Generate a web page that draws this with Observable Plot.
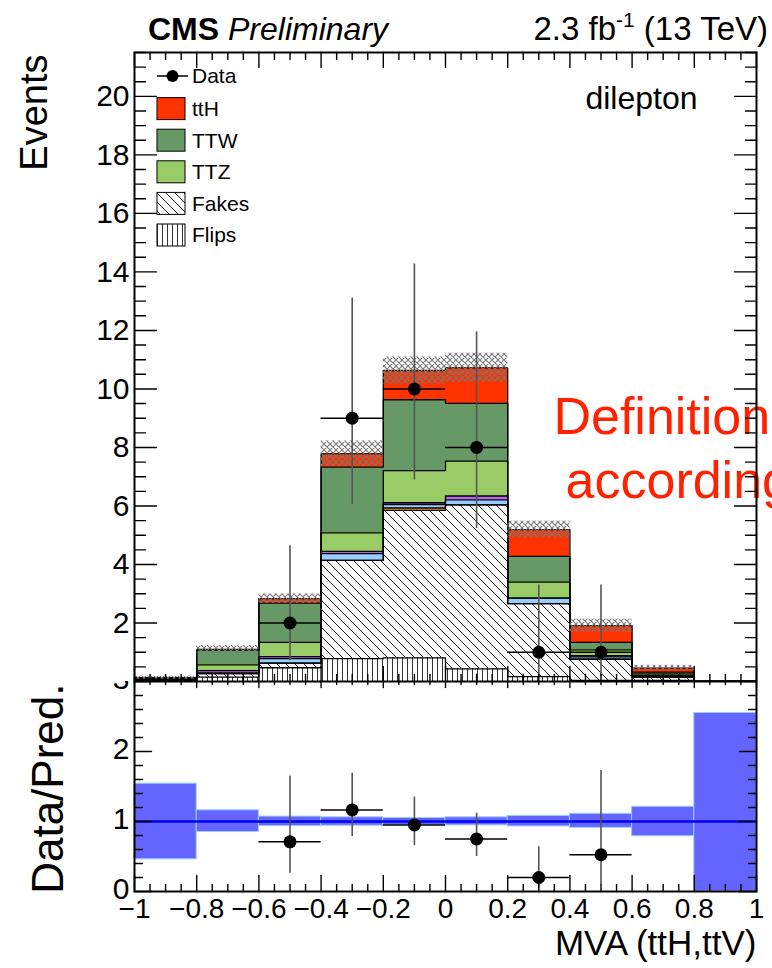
<!DOCTYPE html>
<html><head><meta charset="utf-8">
<script src="https://cdn.jsdelivr.net/npm/d3@7"></script>
<script src="https://cdn.jsdelivr.net/npm/@observablehq/plot@0.6"></script>
<style>
html,body{margin:0;padding:0;background:#fff;}
#chart{position:relative;width:772px;height:968px;overflow:hidden;background:#fff;}
#chart svg{display:block;overflow:hidden;}
</style></head><body><div id="chart"></div>
<script>
// ---------- data ----------
const binEdges = [-1,-0.8,-0.6,-0.4,-0.2,0,0.2,0.4,0.6,0.8,1];
const layerNames = ["Flips","Fakes","Rares","WZ","ZZ","TTZ","TTW","ttH"];
const flips = [0.04,0.15,0.47,0.78,0.81,0.43,0.17,0.04,0.04,0];
const fakes = [0.03,0.12,0.16,3.36,5.04,5.61,2.49,0.72,0.11,0];
const rares = [0,0,0,0,0.08,0,0,0,0,0];
const wz    = [0.01,0.02,0.15,0.23,0.12,0.17,0.19,0.08,0.03,0];
const zz    = [0.01,0.08,0.07,0.08,0.06,0.13,0,0.04,0.03,0];
const ttz   = [0.02,0.20,0.49,0.63,1.10,1.19,0.55,0.20,0.05,0];
const ttw   = [0.02,0.50,1.34,2.25,2.42,1.98,0.88,0.26,0.06,0];
const tth   = [0,0.03,0.15,0.45,1.00,1.21,0.91,0.57,0.14,0];
const totalUnc = [0.05,0.13,0.16,0.44,0.46,0.50,0.29,0.22,0.09,0];

const dataBin = [2,3,4,5,6,7];
const dataX   = [-0.5,-0.3,-0.1,0.1,0.3,0.5];
const dataN   = [2,9,10,8,1,1];
const dataLo  = [0.71,6.06,6.89,5.23,0.17,0.17];
const dataHi  = [4.64,13.11,14.27,11.95,3.30,3.30];

const ratioVal = [0.71,1.165,0.95,0.75,0.20,0.525];
const ratioLo  = [0.26,0.785,0.655,0.50,0.035,0.095];
const ratioHi  = [1.65,1.69,1.35,1.12,0.64,1.73];
const bandLo = [0.46,0.85,0.935,0.94,0.95,0.945,0.93,0.91,0.79,0];
const bandHi = [1.54,1.16,1.07,1.06,1.05,1.06,1.08,1.11,1.21,2.55];

const yTicksTop = [2,4,6,8,10,12,14,16,18,20];
const yTicksRatio = [0,1,2,3];
const xTicks = [-1,-0.8,-0.6,-0.4,-0.2,0,0.2,0.4,0.6,0.8,1];
const legendLabels = ["Data","ttH","TTW","TTZ","Fakes","Flips"];

// ---------- styles ----------
const FONT = "'Liberation Sans', Arial, Helvetica, sans-serif";
const layerFill = {
  Flips: "url(#hatchFlips)", Fakes: "url(#hatchFakes)", Rares: "#ff9933",
  WZ: "#99ccff", ZZ: "#c060f0", TTZ: "#99cc66", TTW: "#669966", ttH: "#ff3300"
};
const layerValues = {Flips: flips, Fakes: fakes, Rares: rares, WZ: wz, ZZ: zz, TTZ: ttz, TTW: ttw, ttH: tth};

// build stacked rows
const stackRows = {};
const stackTops = {};
const cum = binEdges.slice(0, -1).map(() => 0);
for (const name of layerNames) {
  const vals = layerValues[name];
  stackRows[name] = vals.map((v, i) => ({x1: binEdges[i], x2: binEdges[i+1], y1: cum[i], y2: cum[i] + v}));
  vals.forEach((v, i) => { cum[i] += v; });
  stackTops[name] = binEdges.map((e, k) => ({x: e, y: cum[Math.min(k, cum.length - 1)]}));
}
const totals = cum.slice();
const uncRows = totals.map((t, i) => ({x1: binEdges[i], x2: binEdges[i+1], y1: t - totalUnc[i], y2: t + totalUnc[i]})).filter((d, i) => totalUnc[i] > 0);
const dataRows = dataX.map((x, i) => ({x, n: dataN[i], lo: dataLo[i], hi: dataHi[i], x1: binEdges[dataBin[i]], x2: binEdges[dataBin[i] + 1]}));
const ratioRows = dataX.map((x, i) => ({x, r: ratioVal[i], lo: ratioLo[i], hi: ratioHi[i], x1: binEdges[dataBin[i]], x2: binEdges[dataBin[i] + 1]}));
const bandRows = bandLo.map((lo, i) => ({x1: binEdges[i], x2: binEdges[i+1], y1: lo, y2: bandHi[i]}));

// tick helpers
const tickShape = {draw(ctx, l) { ctx.moveTo(0, 0); ctx.lineTo(0, -l); }};
function vt(values, opts) {
  return Plot.vector(values, {anchor: "start", shape: tickShape, stroke: "black", strokeWidth: 1.4, ...opts});
}
const yMinorTop = d3.range(0, 44).map(k => k * 0.5).filter(v => v <= 21.5 && (Math.round(v * 2) % 4) !== 0);
const yMajorTop = [0, ...yTicksTop];
const xMinor = d3.range(0, 41).filter(k => k % 4 !== 0).map(k => -1 + k * 0.05);
const xMajor = xTicks;
const yMinorRatio = d3.range(0, 16).filter(k => k % 5 !== 0).map(k => k * 0.2);
const fmtX = d => (d < 0 ? "\u2212" : "") + String(Math.abs(d));

// ---------- upper plot ----------
const upperMarks = [];
for (const name of layerNames) {
  upperMarks.push(Plot.rect(stackRows[name], {x1: "x1", x2: "x2", y1: "y1", y2: "y2", fill: layerFill[name], shapeRendering: "crispEdges"}));
}
for (const name of layerNames) {
  upperMarks.push(Plot.line(stackTops[name], {x: "x", y: "y", curve: "step-after", stroke: "black", strokeWidth: 1.3}));
}
upperMarks.push(Plot.rect(uncRows, {x1: "x1", x2: "x2", y1: "y1", y2: "y2", fill: "url(#hatchUnc)"}));
upperMarks.push(Plot.ruleX(dataRows, {x: "x", y1: "lo", y2: "hi", stroke: "#555", strokeWidth: 1.6}));
upperMarks.push(Plot.ruleY(dataRows, {y: "n", x1: "x1", x2: "x2", stroke: "black", strokeWidth: 1.6}));
upperMarks.push(Plot.dot(dataRows, {x: "x", y: "n", r: 6.5, fill: "black", stroke: "none"}));
upperMarks.push(Plot.text(["dilepton"], {x: [0.45], y: [19.92], text: d => d, textAnchor: "start", fontSize: 32, fill: "black"}));
upperMarks.push(Plot.text(["Definition", "according"], {x: [0.347, 0.386], y: [9.03, 6.85], text: d => d, textAnchor: "start", fontSize: 52, fill: "#ff2200"}));
upperMarks.push(Plot.text(["Events"], {frameAnchor: "top-left", rotate: -90, textAnchor: "end", dx: -114, dy: 2, fontSize: 38, fill: "black"}));
upperMarks.push(vt(yMajorTop, {x: -1, y: d => d, rotate: 90, length: 22}));
upperMarks.push(vt(yMinorTop, {x: -1, y: d => d, rotate: 90, length: 11}));
upperMarks.push(vt(yMajorTop, {x: 1, y: d => d, rotate: -90, length: 22}));
upperMarks.push(vt(yMinorTop, {x: 1, y: d => d, rotate: -90, length: 11}));
upperMarks.push(vt(xMajor, {x: d => d, y: 0, rotate: 0, length: 15}));
upperMarks.push(vt(xMinor, {x: d => d, y: 0, rotate: 0, length: 7}));
upperMarks.push(vt(xMajor, {x: d => d, y: 21.5, rotate: 180, length: 15}));
upperMarks.push(vt(xMinor, {x: d => d, y: 21.5, rotate: 180, length: 7}));
upperMarks.push(Plot.axisY(yTicksTop, {anchor: "left", tickSize: 0, tickPadding: 5, fontSize: 30, tickFormat: d => String(d)}));
upperMarks.push(Plot.frame({stroke: "black", strokeWidth: 2}));

const upper = Plot.plot({
  width: 772, height: 681,
  marginTop: 52, marginLeft: 134, marginRight: 16, marginBottom: 0,
  x: {domain: [-1, 1], axis: null},
  y: {domain: [0, 21.5]},
  style: {fontFamily: FONT, fontSize: "30px", background: "white", color: "black", overflow: "hidden"},
  marks: upperMarks
});

// ---------- lower plot ----------
const lower = Plot.plot({
  width: 772, height: 287,
  marginTop: 0, marginLeft: 134, marginRight: 16, marginBottom: 77,
  x: {domain: [-1, 1]},
  y: {domain: [0, 3]},
  style: {fontFamily: FONT, fontSize: "30px", background: "white", color: "black", overflow: "hidden"},
  marks: [
    Plot.rect(bandRows, {x1: "x1", x2: "x2", y1: "y1", y2: "y2", fill: "#6464ff", stroke: "#99ccff", strokeWidth: 1}),
    Plot.ruleY([1], {stroke: "#0000ee", strokeWidth: 2.4}),
    Plot.ruleX(ratioRows, {x: "x", y1: "lo", y2: "hi", stroke: "#555", strokeWidth: 1.6}),
    Plot.ruleY(ratioRows, {y: "r", x1: "x1", x2: "x2", stroke: "black", strokeWidth: 1.6}),
    Plot.dot(ratioRows, {x: "x", y: "r", r: 6.5, fill: "black", stroke: "none"}),
    vt(yTicksRatio, {x: -1, y: d => d, rotate: 90, length: 17}),
    vt(yMinorRatio, {x: -1, y: d => d, rotate: 90, length: 8}),
    vt(yTicksRatio, {x: 1, y: d => d, rotate: -90, length: 17}),
    vt(yMinorRatio, {x: 1, y: d => d, rotate: -90, length: 8}),
    vt(xMajor, {x: d => d, y: 0, rotate: 0, length: 16}),
    vt(xMinor, {x: d => d, y: 0, rotate: 0, length: 7}),
    vt(xMajor, {x: d => d, y: 3, rotate: 180, length: 6}),
    vt(xMinor, {x: d => d, y: 3, rotate: 180, length: 3}),
    Plot.axisY(yTicksRatio, {anchor: "left", tickSize: 0, tickPadding: 5, fontSize: 30, dy: -2, tickFormat: d => String(d)}),
    Plot.axisX(xTicks, {anchor: "bottom", tickSize: 0, tickPadding: 7, fontSize: 28, tickFormat: fmtX}),
    Plot.text(["Data/Pred."], {frameAnchor: "top-left", rotate: -90, textAnchor: "end", dx: -103, dy: 2, fontSize: 44, fill: "black"}),
    Plot.text(["MVA (ttH,ttV)"], {frameAnchor: "bottom-right", textAnchor: "end", dy: 63, fontSize: 35, fill: "black"}),
    Plot.frame({stroke: "black", strokeWidth: 2})
  ]
});

const chart = document.getElementById("chart");
chart.appendChild(upper);
chart.appendChild(lower);

// ---------- patterns, header, legend ----------
const svgU = d3.select(upper);
const defs = svgU.insert("defs", ":first-child");
const pF = defs.append("pattern").attr("id", "hatchFakes").attr("patternUnits", "userSpaceOnUse").attr("width", 9).attr("height", 9);
pF.append("rect").attr("width", 9).attr("height", 9).attr("fill", "white");
pF.append("path").attr("d", "M0,0L9,9M-2,7L2,11M7,-2L11,2").attr("stroke", "black").attr("stroke-width", 0.9);
const pL = defs.append("pattern").attr("id", "hatchFlips").attr("patternUnits", "userSpaceOnUse").attr("width", 5).attr("height", 10);
pL.append("rect").attr("width", 5).attr("height", 10).attr("fill", "white");
pL.append("path").attr("d", "M2.5,0V10").attr("stroke", "black").attr("stroke-width", 0.8);
const pU = defs.append("pattern").attr("id", "hatchUnc").attr("patternUnits", "userSpaceOnUse").attr("width", 6).attr("height", 6);
pU.append("path").attr("d", "M0,0L6,6M6,0L0,6M-1,5L1,7M5,-1L7,1M-1,1L1,-1M5,7L7,5").attr("stroke", "#777").attr("stroke-width", 1.1).attr("fill", "none");

// header
const h1 = svgU.append("text").attr("x", 148).attr("y", 40).attr("font-size", 32).attr("font-family", FONT).attr("text-anchor", "start").attr("fill", "black");
h1.append("tspan").attr("font-weight", "bold").text("CMS");
h1.append("tspan").attr("font-style", "italic").text(" Preliminary");
const h2 = svgU.append("text").attr("x", 768).attr("y", 40).attr("font-size", 33).attr("font-family", FONT).attr("text-anchor", "end").attr("fill", "black");
h2.append("tspan").text("2.3 fb");
h2.append("tspan").attr("font-size", 21).attr("dy", -13).text("-1");
h2.append("tspan").attr("dy", 13).text(" (13 TeV)");

// legend
const lg = svgU.append("g").attr("font-family", FONT).attr("font-size", 21).attr("text-anchor", "start");
const legendFill = {ttH: layerFill.ttH, TTW: layerFill.TTW, TTZ: layerFill.TTZ, Fakes: layerFill.Fakes, Flips: layerFill.Flips};
legendLabels.forEach((lab, i) => {
  const cy = 76 + i * 31.6 + (i > 0 ? 1 : 0);
  if (lab === "Data") {
    lg.append("line").attr("x1", 157).attr("x2", 188).attr("y1", cy).attr("y2", cy).attr("stroke", "black").attr("stroke-width", 1.5);
    lg.append("circle").attr("cx", 172.5).attr("cy", cy).attr("r", 6).attr("fill", "black");
  } else {
    lg.append("rect").attr("x", 157).attr("y", cy - 11).attr("width", 28).attr("height", 22)
      .attr("fill", legendFill[lab]).attr("stroke", "black").attr("stroke-width", 1);
  }
  lg.append("text").attr("x", 192).attr("y", cy).attr("dy", "0.35em").attr("fill", "black").text(lab);
});
</script></body></html>
